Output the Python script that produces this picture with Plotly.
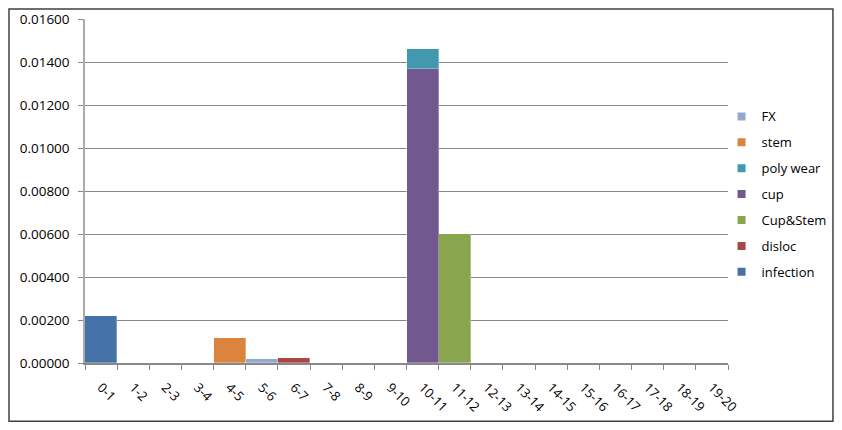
import plotly.graph_objects as go

bins = ['0-1', '1-2', '2-3', '3-4', '4-5', '5-6', '6-7', '7-8', '8-9', '9-10',
        '10-11', '11-12', '12-13', '13-14', '14-15', '15-16', '16-17', '17-18', '18-19', '19-20']

# rates per bin, one list per failure cause (zero where nothing drawn)
infection = [0.00218] + [0] * 19
disloc = [0] * 6 + [0.00023] + [0] * 13
cup_stem = [0] * 11 + [0.00600] + [0] * 8
cup = [0] * 10 + [0.01367] + [0] * 9
poly_wear = [0] * 10 + [0.00095] + [0] * 9
stem = [0] * 4 + [0.00116] + [0] * 15
fx = [0] * 5 + [0.00019] + [0] * 14

series = [
    ('infection', infection, '#4572A7'),
    ('disloc', disloc, '#AA4643'),
    ('Cup&Stem', cup_stem, '#89A54E'),
    ('cup', cup, '#71588F'),
    ('poly wear', poly_wear, '#4198AF'),
    ('stem', stem, '#DB843D'),
    ('FX', fx, '#93A9CF'),
]

fig = go.Figure()
n = len(series)
for i, (name, vals, col) in enumerate(series):
    fig.add_trace(go.Bar(
        x=bins, y=vals, name=name, showlegend=False,
        marker=dict(color=col, line=dict(color='rgba(255,255,255,0.6)', width=0.5)),
    ))
    # small square legend key like excel's
    fig.add_trace(go.Scatter(
        x=[None], y=[None], mode='markers', name=name,
        legendgroup=name, legendrank=n - i,
        marker=dict(symbol='square', size=8, color=col),
    ))

font = dict(family='Open Sans, Liberation Sans, sans-serif', size=13, color='#000')

# page body has an 8px margin; keep the figure small enough that the page doesn't scroll
fig.update_layout(
    barmode='stack',
    bargap=0,
    width=826, height=414,
    margin=dict(l=77, r=106, t=11, b=59, autoexpand=False),
    paper_bgcolor='white', plot_bgcolor='white',
    font=font,
    showlegend=True,
    legend=dict(
        x=0.99, y=0.49, xanchor='left', yanchor='middle',
        traceorder='grouped', tracegroupgap=6,
        font=dict(size=13), itemwidth=30, bgcolor='rgba(0,0,0,0)',
    ),
    xaxis=dict(
        type='category', tickangle=45, tickson='boundaries',
        ticks='outside', ticklen=5, tickcolor='#888',
        showline=True, linecolor='#888', linewidth=1.5,
        showgrid=False, tickfont=dict(size=13), automargin=False,
        ticklabelstandoff=10,
    ),
    yaxis=dict(
        range=[0, 0.016], dtick=0.002, tickformat='.5f',
        ticks='outside', ticklen=5, tickcolor='#888',
        showline=True, linecolor='#aaa', linewidth=1.5,
        showgrid=True, gridcolor='#888', gridwidth=1,
        zeroline=False, tickfont=dict(size=13.5), automargin=False,
        ticklabelstandoff=6,
    ),
    shapes=[dict(
        type='rect', xref='paper', yref='paper',
        x0=-0.1182, x1=1.1632, y0=-0.1693, y1=1.0291,
        line=dict(color='#404040', width=1.5),
    )],
)

fig.write_html('out.html')
